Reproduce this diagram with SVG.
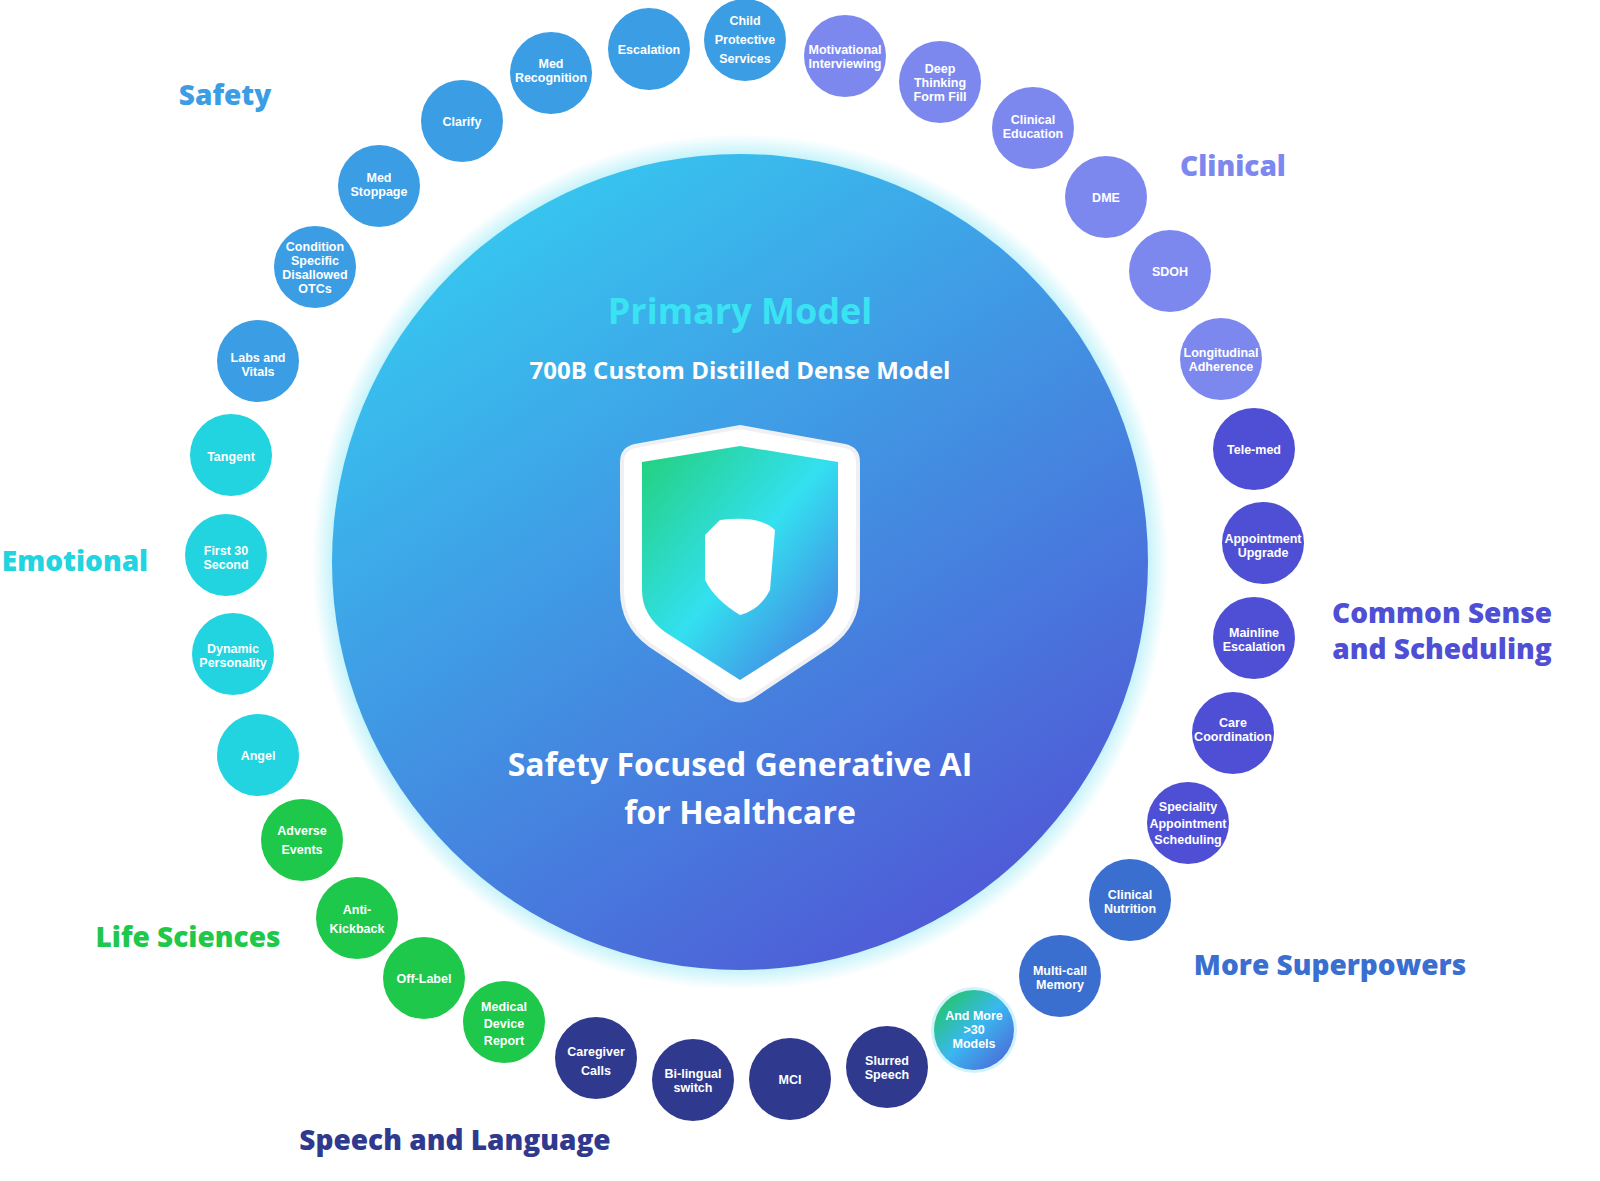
<svg xmlns="http://www.w3.org/2000/svg" width="1600" height="1181" viewBox="0 0 1600 1181">
<style>
.n text{font-family:"Liberation Sans","Open Sans",sans-serif;font-weight:700;font-size:12.5px;fill:#fff;text-anchor:middle}
.h{font-family:"Open Sans","Liberation Sans",sans-serif;font-weight:800;font-size:28px;text-anchor:middle}
.c{font-family:"Open Sans","Liberation Sans",sans-serif;font-weight:700;fill:#fff;text-anchor:middle}
.sa{fill:#3b9de4}.cl{fill:#7d88ef}.cs{fill:#4f4fd6}.ms{fill:#3a6fd0}.sp{fill:#2f3a8f}.ls{fill:#1ec84b}.em{fill:#22d3e0}
</style>
<defs>
<radialGradient id="glow" cx="0.5" cy="0.5" r="0.5">
<stop offset="0.9" stop-color="#39d6f0" stop-opacity="0.6"/>
<stop offset="1" stop-color="#39d6f0" stop-opacity="0"/>
</radialGradient>
<linearGradient id="big" x1="0.2" y1="0.05" x2="0.8" y2="0.95">
<stop offset="0" stop-color="#36c8f0"/>
<stop offset="0.5" stop-color="#4290e2"/>
<stop offset="1" stop-color="#5058d6"/>
</linearGradient>
<linearGradient id="sh" x1="0" y1="0" x2="1" y2="1">
<stop offset="0" stop-color="#22d07a"/>
<stop offset="0.5" stop-color="#33e0f0"/>
<stop offset="1" stop-color="#4a6ee0"/>
</linearGradient>
<linearGradient id="more" x1="0" y1="0" x2="1" y2="1">
<stop offset="0" stop-color="#1ec84b"/>
<stop offset="0.5" stop-color="#3ab8ef"/>
<stop offset="1" stop-color="#4f5bd6"/>
</linearGradient>
</defs>
<rect width="1600" height="1181" fill="#fff"/>
<g id="core">
<circle cx="740" cy="562" r="428" fill="url(#glow)"/>
<circle cx="740" cy="562" r="408" fill="url(#big)"/>
<text class="c" x="740" y="324" font-size="36" style="fill:#3ae3f2">Primary Model</text>
<text class="c" x="740" y="379" font-size="24">700B Custom Distilled Dense Model</text>
<path d="M740 427 L845 446 Q858 449 858 462 L858 590 Q858 625 830 645 L752 697 Q740 704 728 697 L650 645 Q622 625 622 590 L622 462 Q622 449 635 446 Z" fill="#fff" stroke="#eef0f4" stroke-width="4"/>
<path d="M740 446 L838 462 L838 590 Q838 615 815 632 L740 680 L665 632 Q642 615 642 590 L642 462 Z" fill="url(#sh)"/>
<path d="M720 520 Q760 515 775 530 L770 590 Q760 610 740 615 Q715 600 705 580 L705 535 Z" fill="#fff"/>
<text class="c" x="740" y="776" font-size="32">Safety Focused Generative AI</text>
<text class="c" x="740" y="824" font-size="32">for Healthcare</text>
</g>
<g id="labels">
<text class="h sa" x="225" y="105">Safety</text>
<text class="h cl" x="1233" y="176">Clinical</text>
<text class="h em" x="75" y="571" font-size="27">Emotional</text>
<text class="h cs" x="1442" y="623">Common Sense</text>
<text class="h cs" x="1442" y="659">and Scheduling</text>
<text class="h ls" x="188" y="947">Life Sciences</text>
<text class="h ms" x="1330" y="975">More Superpowers</text>
<text class="h sp" x="455" y="1150">Speech and Language</text>
</g>
<g id="connectors"></g>
<g id="n1" class="n"><circle class="sa" cx="551" cy="73" r="41"/><text x="551" y="68">Med</text><text x="551" y="82">Recognition</text></g>
<g id="n2" class="n"><circle class="sa" cx="649" cy="49" r="41"/><text x="649" y="54">Escalation</text></g>
<g id="n3" class="n"><circle class="sa" cx="745" cy="40" r="41"/><text x="745" y="25">Child</text><text x="745" y="44">Protective</text><text x="745" y="63">Services</text></g>
<g id="n4" class="n"><circle class="sa" cx="462" cy="121" r="41"/><text x="462" y="126">Clarify</text></g>
<g id="n5" class="n"><circle class="sa" cx="379" cy="186" r="41"/><text x="379" y="182">Med</text><text x="379" y="196">Stoppage</text></g>
<g id="n6" class="n"><circle class="sa" cx="315" cy="267" r="41"/><text x="315" y="251" font-size="11.5">Condition</text><text x="315" y="265" font-size="11.5">Specific</text><text x="315" y="279" font-size="11.5">Disallowed</text><text x="315" y="293" font-size="11.5">OTCs</text></g>
<g id="n7" class="n"><circle class="sa" cx="258" cy="361" r="41"/><text x="258" y="362">Labs and</text><text x="258" y="376">Vitals</text></g>
<g id="n8" class="n"><circle class="cl" cx="845" cy="56" r="41"/><text x="845" y="54" font-size="11.5">Motivational</text><text x="845" y="68" font-size="11.5">Interviewing</text></g>
<g id="n9" class="n"><circle class="cl" cx="940" cy="82" r="41"/><text x="940" y="73">Deep</text><text x="940" y="87">Thinking</text><text x="940" y="101">Form Fill</text></g>
<g id="n10" class="n"><circle class="cl" cx="1033" cy="128" r="41"/><text x="1033" y="124">Clinical</text><text x="1033" y="138">Education</text></g>
<g id="n11" class="n"><circle class="cl" cx="1106" cy="197" r="41"/><text x="1106" y="202">DME</text></g>
<g id="n12" class="n"><circle class="cl" cx="1170" cy="271" r="41"/><text x="1170" y="276">SDOH</text></g>
<g id="n13" class="n"><circle class="cl" cx="1221" cy="359" r="41"/><text x="1221" y="357" font-size="11.5">Longitudinal</text><text x="1221" y="371" font-size="11.5">Adherence</text></g>
<g id="n14" class="n"><circle class="cs" cx="1254" cy="449" r="41"/><text x="1254" y="454">Tele-med</text></g>
<g id="n15" class="n"><circle class="cs" cx="1263" cy="543" r="41"/><text x="1263" y="543" font-size="11.5">Appointment</text><text x="1263" y="557" font-size="11.5">Upgrade</text></g>
<g id="n16" class="n"><circle class="cs" cx="1254" cy="638" r="41"/><text x="1254" y="637">Mainline</text><text x="1254" y="651">Escalation</text></g>
<g id="n17" class="n"><circle class="cs" cx="1233" cy="733" r="41"/><text x="1233" y="727" font-size="11.5">Care</text><text x="1233" y="741" font-size="11.5">Coordination</text></g>
<g id="n18" class="n"><circle class="cs" cx="1188" cy="823" r="41"/><text x="1188" y="811" font-size="11">Speciality</text><text x="1188" y="828" font-size="11">Appointment</text><text x="1188" y="844" font-size="11">Scheduling</text></g>
<g id="n19" class="n"><circle class="ms" cx="1130" cy="900" r="41"/><text x="1130" y="899">Clinical</text><text x="1130" y="913">Nutrition</text></g>
<g id="n20" class="n"><circle class="ms" cx="1060" cy="976" r="41"/><text x="1060" y="975">Multi-call</text><text x="1060" y="989">Memory</text></g>
<g id="n21" class="n"><circle cx="974" cy="1030" r="43" fill="#8ee0f5" opacity="0.4"/><circle cx="974" cy="1030" r="40" fill="url(#more)"/><text x="974" y="1020">And More</text><text x="974" y="1034">&gt;30</text><text x="974" y="1048">Models</text></g>
<g id="n22" class="n"><circle class="sp" cx="887" cy="1067" r="41"/><text x="887" y="1065">Slurred</text><text x="887" y="1079">Speech</text></g>
<g id="n23" class="n"><circle class="sp" cx="790" cy="1079" r="41"/><text x="790" y="1084">MCI</text></g>
<g id="n24" class="n"><circle class="sp" cx="693" cy="1080" r="41"/><text x="693" y="1078">Bi-lingual</text><text x="693" y="1092">switch</text></g>
<g id="n25" class="n"><circle class="sp" cx="596" cy="1058" r="41"/><text x="596" y="1056">Caregiver</text><text x="596" y="1075">Calls</text></g>
<g id="n26" class="n"><circle class="ls" cx="504" cy="1022" r="41"/><text x="504" y="1011">Medical</text><text x="504" y="1028">Device</text><text x="504" y="1045">Report</text></g>
<g id="n27" class="n"><circle class="ls" cx="424" cy="978" r="41"/><text x="424" y="983">Off-Label</text></g>
<g id="n28" class="n"><circle class="ls" cx="357" cy="918" r="41"/><text x="357" y="914">Anti-</text><text x="357" y="933">Kickback</text></g>
<g id="n29" class="n"><circle class="ls" cx="302" cy="840" r="41"/><text x="302" y="835">Adverse</text><text x="302" y="854">Events</text></g>
<g id="n30" class="n"><circle class="em" cx="258" cy="755" r="41"/><text x="258" y="760">Angel</text></g>
<g id="n31" class="n"><circle class="em" cx="233" cy="654" r="41"/><text x="233" y="653">Dynamic</text><text x="233" y="667">Personality</text></g>
<g id="n32" class="n"><circle class="em" cx="226" cy="555" r="41"/><text x="226" y="555">First 30</text><text x="226" y="569">Second</text></g>
<g id="n33" class="n"><circle class="em" cx="231" cy="455" r="41"/><text x="231" y="461">Tangent</text></g>
</svg>
